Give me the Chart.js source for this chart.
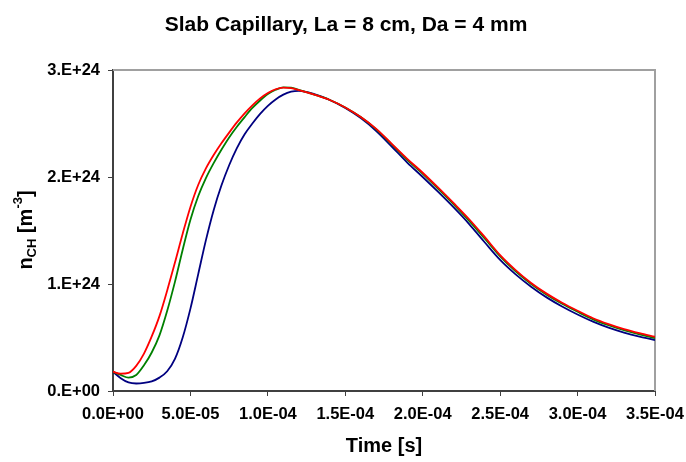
<!DOCTYPE html>
<html>
<head>
<meta charset="utf-8">
<script src="https://cdn.jsdelivr.net/npm/chart.js@4.4.1/dist/chart.umd.min.js"></script>
<style>
  html, body { margin: 0; padding: 0; background: #fff; }
  #wrap { width: 686px; height: 462px; }
</style>
</head>
<body>
<div id="wrap"><canvas id="c" width="686" height="462"></canvas></div>
<script>
// time in seconds
const timeS = [0, 0.5e-5, 1e-5, 1.5e-5, 2e-5, 2.5e-5, 3e-5, 3.5e-5, 4e-5, 4.5e-5, 5e-5, 5.5e-5,
  6e-5, 6.5e-5, 7e-5, 7.5e-5, 8e-5, 8.5e-5, 9e-5, 9.5e-5, 10e-5, 10.5e-5, 11e-5, 11.5e-5, 12e-5,
  13e-5, 14e-5, 15e-5, 16e-5, 17e-5, 18e-5, 19e-5, 20e-5, 21e-5, 22e-5, 23e-5, 24e-5, 25e-5,
  26e-5, 27e-5, 28e-5, 29e-5, 30e-5, 31e-5, 32e-5, 33e-5, 34e-5, 35e-5];

// n_CH in units of 1e24 m^-3
const redVals = [0.18, 0.162, 0.17, 0.235, 0.35, 0.51, 0.70, 0.94, 1.2, 1.47, 1.72, 1.925,
  2.08, 2.205, 2.315, 2.415, 2.51, 2.595, 2.67, 2.735, 2.785, 2.82, 2.835, 2.83, 2.812,
  2.77, 2.72, 2.65, 2.56, 2.45, 2.31, 2.17, 2.04, 1.90, 1.755, 1.605, 1.44, 1.27,
  1.13, 1.01, 0.91, 0.825, 0.75, 0.68, 0.625, 0.578, 0.54, 0.507];
const greenVals = [0.18, 0.15, 0.125, 0.15, 0.24, 0.36, 0.52, 0.75, 1.02, 1.32, 1.60, 1.82,
  1.99, 2.13, 2.255, 2.37, 2.47, 2.56, 2.645, 2.715, 2.775, 2.815, 2.838, 2.835, 2.815,
  2.77, 2.72, 2.65, 2.56, 2.445, 2.305, 2.16, 2.03, 1.89, 1.745, 1.59, 1.425, 1.258,
  1.118, 1.0, 0.9, 0.815, 0.74, 0.67, 0.615, 0.568, 0.53, 0.495];
const blueVals = [0.18, 0.12, 0.08, 0.07, 0.075, 0.09, 0.125, 0.185, 0.30, 0.50, 0.77, 1.09,
  1.41, 1.69, 1.92, 2.11, 2.27, 2.40, 2.50, 2.59, 2.665, 2.725, 2.77, 2.797, 2.805,
  2.775, 2.72, 2.645, 2.55, 2.43, 2.285, 2.135, 2.0, 1.86, 1.715, 1.56, 1.39, 1.225,
  1.09, 0.975, 0.875, 0.79, 0.715, 0.648, 0.592, 0.546, 0.508, 0.476];

const xTickLabels = ['0.0E+00', '5.0E-05', '1.0E-04', '1.5E-04', '2.0E-04', '2.5E-04', '3.0E-04', '3.5E-04'];
const yTickLabels = ['0.E+00', '1.E+24', '2.E+24', '3.E+24'];

const FONT = 'Liberation Sans, Arial, sans-serif';

const toPoints = (vals) => timeS.map((t, i) => ({ x: t, y: vals[i] * 1e24 }));

const line = (vals, color) => ({
  data: toPoints(vals),
  borderColor: color,
  borderWidth: 1.8,
  pointRadius: 0,
  cubicInterpolationMode: 'monotone',
  fill: false,
});

// title, axis titles (y one with sub/superscript), grey frame
const decor = {
  id: 'decor',
  beforeDatasetsDraw(chart) {
    const { ctx, chartArea: a } = chart;
    ctx.save();
    ctx.strokeStyle = '#a0a0a0';
    ctx.lineWidth = 2;
    ctx.beginPath();
    ctx.moveTo(a.left, a.top);
    ctx.lineTo(a.right, a.top);
    ctx.lineTo(a.right, a.bottom);
    ctx.stroke();
    ctx.restore();
  },
  afterDraw(chart) {
    const { ctx, chartArea: a } = chart;
    ctx.save();
    ctx.fillStyle = '#000';
    ctx.textBaseline = 'alphabetic';
    ctx.textAlign = 'center';
    ctx.font = 'bold 21px ' + FONT;
    ctx.fillText('Slab Capillary, La = 8 cm, Da = 4 mm', 346, 31);

    ctx.font = 'bold 20px ' + FONT;
    ctx.fillText('Time [s]', (a.left + a.right) / 2, 452);

    // y axis title: n_CH [m^-3]
    const big = 'bold 20px ' + FONT;
    const small = 'bold 13px ' + FONT;
    const parts = [
      { t: 'n', f: big, dy: 0 },
      { t: 'CH', f: small, dy: 4 },
      { t: ' [m', f: big, dy: 0 },
      { t: '-3', f: small, dy: -10 },
      { t: ']', f: big, dy: 0 },
    ];
    let total = 0;
    parts.forEach(p => { ctx.font = p.f; p.w = ctx.measureText(p.t).width; total += p.w; });
    ctx.translate(32, 230);
    ctx.rotate(-Math.PI / 2);
    ctx.textAlign = 'left';
    let x = -total / 2;
    parts.forEach(p => {
      ctx.font = p.f;
      ctx.fillText(p.t, x, p.dy);
      x += p.w;
    });
    ctx.restore();
  }
};

new Chart(document.getElementById('c'), {
  type: 'line',
  data: {
    datasets: [
      line(redVals, '#ff0000'),
      line(greenVals, '#008000'),
      line(blueVals, '#000080'),
    ],
  },
  options: {
    responsive: false,
    animation: false,
    layout: { padding: { left: 0, right: 31, top: 70, bottom: 0 } },
    plugins: {
      legend: { display: false },
      tooltip: { enabled: false },
    },
    scales: {
      x: {
        type: 'linear',
        min: 0,
        max: 3.5e-4,
        afterBuildTicks: (s) => { s.ticks = xTickLabels.map((_, i) => ({ value: i * 5e-5 })); },
        afterFit: (s) => { s.height = 71; s.paddingLeft = 0; s.paddingRight = 0; },
        grid: { drawOnChartArea: false, drawTicks: true, tickLength: 5, color: '#404040' },
        border: { display: true, color: '#404040', width: 2 },
        ticks: {
          color: '#000',
          font: { family: FONT, size: 16.5, weight: 'bold' },
          padding: 9,
          maxRotation: 0,
          callback: (v, i) => xTickLabels[i],
        },
      },
      y: {
        min: 0,
        max: 3e24,
        afterBuildTicks: (s) => { s.ticks = yTickLabels.map((_, i) => ({ value: i * 1e24 })); },
        afterFit: (s) => { s.width = 113; s.paddingTop = 0; s.paddingBottom = 0; },
        grid: { drawOnChartArea: false, drawTicks: true, tickLength: 5, color: '#404040' },
        border: { display: true, color: '#404040', width: 2 },
        ticks: {
          color: '#000',
          font: { family: FONT, size: 16.5, weight: 'bold' },
          padding: 8,
          callback: (v, i) => yTickLabels[i],
        },
      },
    },
  },
  plugins: [decor],
});
</script>
</body>
</html>
